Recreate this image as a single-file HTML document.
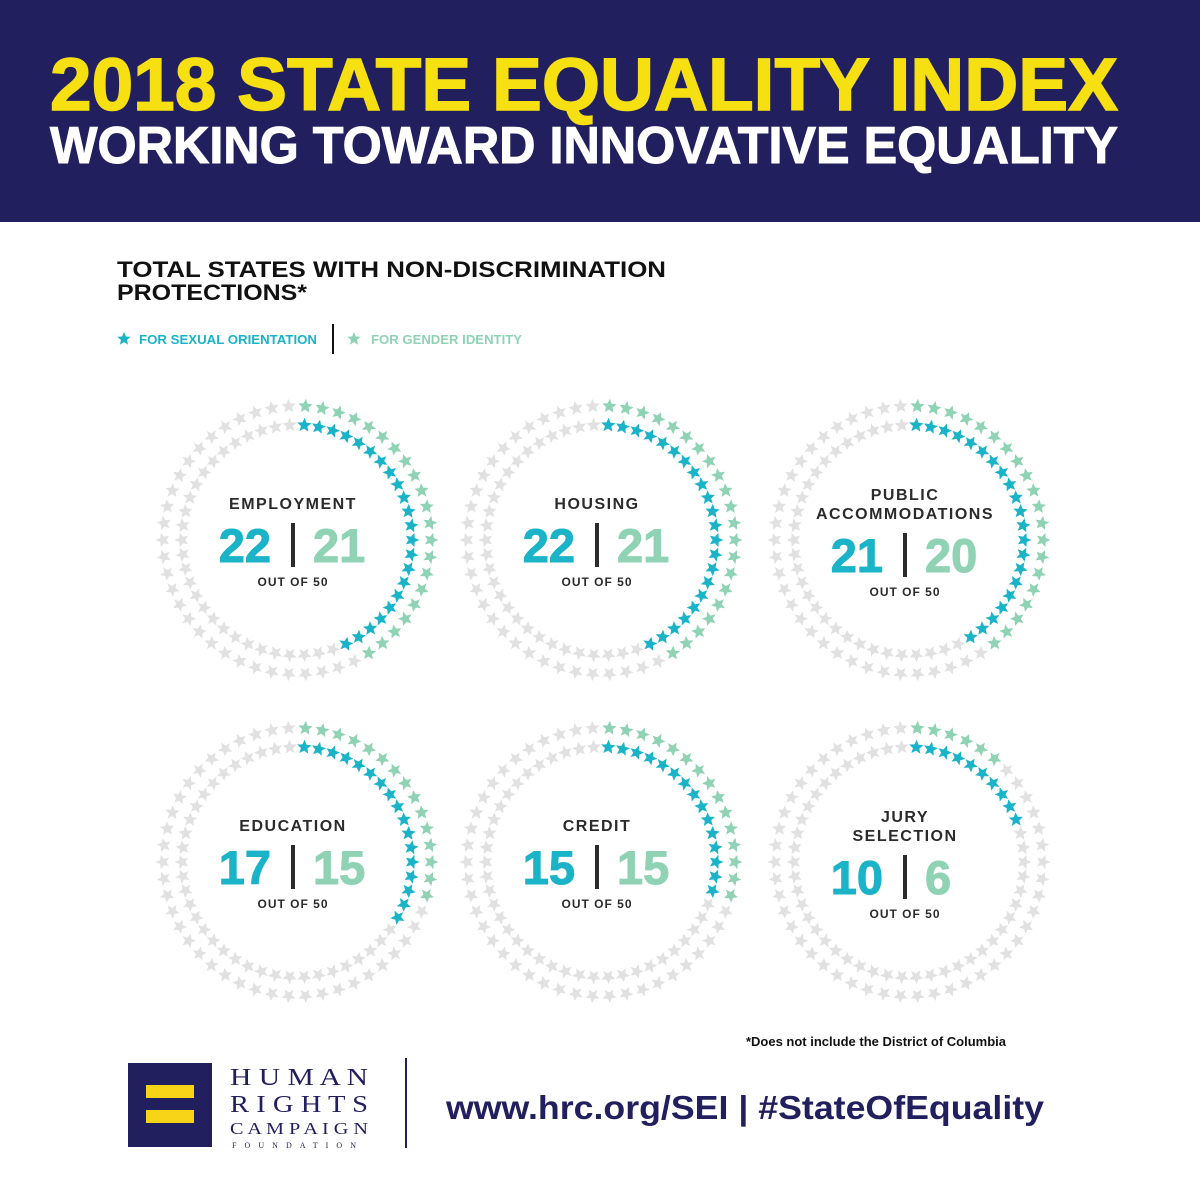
<!DOCTYPE html>
<html><head><meta charset="utf-8"><style>
body{margin:0;background:#fff;}
svg{display:block;font-family:"Liberation Sans",sans-serif;}
</style></head><body>
<svg id="root" width="1200" height="1200" viewBox="0 0 1200 1200">
<rect x="0" y="0" width="1200" height="222" fill="#221f5e"/>
<text x="50" y="110" font-size="74" font-weight="bold" fill="#f7e012" stroke="#f7e012" stroke-width="1.5" textLength="1068" lengthAdjust="spacingAndGlyphs">2018 STATE EQUALITY INDEX</text>
<text x="50" y="163" font-size="52" font-weight="bold" fill="#fff" stroke="#fff" stroke-width="1" textLength="1068" lengthAdjust="spacingAndGlyphs">WORKING TOWARD INNOVATIVE EQUALITY</text>
<text x="117" y="277" font-size="22" font-weight="bold" fill="#111" textLength="549" lengthAdjust="spacingAndGlyphs">TOTAL STATES WITH NON-DISCRIMINATION</text>
<text x="117" y="300" font-size="22" font-weight="bold" fill="#111" textLength="190" lengthAdjust="spacingAndGlyphs">PROTECTIONS*</text>
<g>
<polygon id="legstar1" fill="#1ab3c8"/>
<text x="139" y="344" font-size="13" font-weight="bold" fill="#1ab3c8" textLength="178" lengthAdjust="spacingAndGlyphs">FOR SEXUAL ORIENTATION</text>
<rect x="332" y="324" width="2" height="30" fill="#111"/>
<polygon id="legstar2" fill="#8fd3b4"/>
<text x="371" y="344" font-size="13" font-weight="bold" fill="#8fd3b4" textLength="151" lengthAdjust="spacingAndGlyphs">FOR GENDER IDENTITY</text>
</g>
<g id="charts"></g>
<text x="1006" y="1046" font-size="13" font-weight="bold" fill="#111" text-anchor="end">*Does not include the District of Columbia</text>
<g>
<rect x="128" y="1063" width="84" height="84" fill="#221f5e"/>
<rect x="146" y="1085" width="48" height="13" fill="#f7d417"/>
<rect x="146" y="1110" width="48" height="13" fill="#f7d417"/>
<g font-family="Liberation Serif,serif" fill="#221f5e">
<text x="230" y="1085" font-size="24" textLength="138" lengthAdjust="spacingAndGlyphs">H U M A N</text>
<text x="230" y="1112" font-size="24" textLength="138" lengthAdjust="spacingAndGlyphs">R I G H T S</text>
<text x="230" y="1134" font-size="17" textLength="138" lengthAdjust="spacingAndGlyphs">C A M P A I G N</text>
<text x="232" y="1148" font-size="8" textLength="124" lengthAdjust="spacing">FOUNDATION</text>
</g>
</g>
<rect x="405" y="1058" width="2" height="90" fill="#221f5e"/>
<text x="446" y="1119" font-size="33" font-weight="bold" fill="#221f5e" textLength="598" lengthAdjust="spacingAndGlyphs">www.hrc.org/SEI  |  #StateOfEquality</text>
</svg>
<script>
const categories=["EMPLOYMENT","HOUSING","PUBLIC|ACCOMMODATIONS","EDUCATION","CREDIT","JURY|SELECTION"];
const sexualOrientation=[22,22,21,17,15,10];
const genderIdentity=[21,21,20,15,15,6];
const totalStates=50;
const NS="http://www.w3.org/2000/svg";
const BLUE="#1ab3c8",GREEN="#8fd3b4",GRAY="#e1e1e1";
function starPts(cx,cy,r,rot){let p=[];for(let i=0;i<10;i++){const a=rot+i*Math.PI/5;const rr=i%2?r*0.45:r;p.push((cx+rr*Math.sin(a)).toFixed(1)+","+(cy-rr*Math.cos(a)).toFixed(1));}return p.join(" ");}
document.getElementById('legstar1').setAttribute('points',starPts(124,339,7,0));
document.getElementById('legstar2').setAttribute('points',starPts(354,339,7,0));
const g=document.getElementById('charts');
function mk(tag,attrs,parent){const e=document.createElementNS(NS,tag);for(const k in attrs)e.setAttribute(k,attrs[k]);parent.appendChild(e);return e;}
const cols=[297,601,909],rows=[540,862];
categories.forEach((cat,i)=>{
  const cx=cols[i%3],cy=rows[Math.floor(i/3)];
  const tx=cx-4;
  const grp=mk('g',{},g);
  
  
  [[134,genderIdentity[i],GREEN,'gender-identity'],[115,sexualOrientation[i],BLUE,'sexual-orientation']].forEach(([R,val,col,nm])=>{
    for(let k=0;k<totalStates;k++){
      const a=(k+0.5)/totalStates*2*Math.PI;
      const x=cx+R*Math.sin(a),y=cy-R*Math.cos(a);
      const s=mk('polygon',{points:starPts(x,y,7.5,a),fill:k<val?col:GRAY},grp);
      
      
    }
  });
  const lines=cat.split('|');
  const off=lines.length>1?10:0;
  lines.forEach((ln,j)=>{
    const t=mk('text',{x:tx,y:cy-31+off-(lines.length-1-j)*19,'font-size':16,'font-weight':'bold',fill:'#2b2b2b','text-anchor':'middle','letter-spacing':'1.5'},grp);
    t.textContent=ln;
    
    
  });
  const n1=mk('text',{x:tx-22,y:cy+22+off,'font-size':47,'font-weight':'bold',fill:BLUE,stroke:BLUE,'stroke-width':1,'text-anchor':'end'},grp);
  n1.textContent=sexualOrientation[i];
  
  
  const d=mk('rect',{x:tx-2,y:cy-17+off,width:4,height:44,fill:'#2b2b2b'},grp);
  
  
  const n2=mk('text',{x:tx+20,y:cy+22+off,'font-size':47,'font-weight':'bold',fill:GREEN,stroke:GREEN,'stroke-width':1,'text-anchor':'start'},grp);
  n2.textContent=genderIdentity[i];
  
  
  const o=mk('text',{x:tx,y:cy+46+off,'font-size':12,'font-weight':'bold',fill:'#2b2b2b','text-anchor':'middle','letter-spacing':'1'},grp);
  o.textContent='OUT OF '+totalStates;
  
  
});
</script>
</body></html>
